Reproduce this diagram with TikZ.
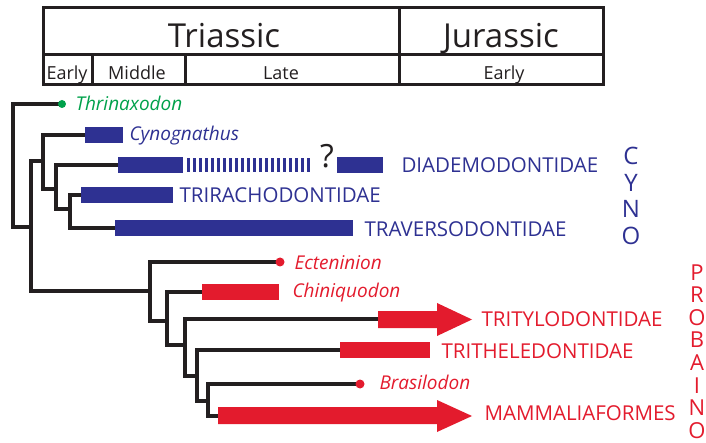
\documentclass[tikz,border=0pt]{standalone}
\usepackage{fontspec}
\setmainfont{Open Sans}
\definecolor{cynoblue}{HTML}{2E3192}
\definecolor{probred}{HTML}{E31B2D}
\definecolor{thrgreen}{HTML}{00A14B}
\definecolor{linegray}{HTML}{231F20}

\begin{document}
\begin{tikzpicture}[x=1pt,y=-1pt,
  branch/.style={line width=3.2pt,linegray},
  frame/.style={line width=3pt,linegray},
  period/.style={anchor=base,font=\fontsize{33}{33}\selectfont,linegray},
  stage/.style={anchor=base,font=\fontsize{18}{18}\selectfont,linegray},
  taxon/.style={anchor=base west,font=\fontsize{19}{19}\selectfont\itshape},
  clade/.style={anchor=base west,font=\fontsize{20.5}{20.5}\selectfont},
  sideletter/.style={anchor=base,font=\fontsize{22}{22}\selectfont}]
\useasboundingbox (0,0) rectangle (706,443);

% time scale
\draw[frame] (43,8) rectangle (603,85);
\draw[frame] (43,55) -- (603,55);
\draw[frame] (399,8) -- (399,85);
\draw[frame] (92,55) -- (92,85);
\draw[frame] (185,55) -- (185,85);
\node[period] (tri) at (224,48) {Triassic};
\node[period] (jur) at (501,48) {Jurassic};
\node[stage] (tearly) at (67,80) {Early};
\node[stage] (tmid) at (137,80) {Middle};
\node[stage] (tlate) at (281,80) {Late};
\node[stage] (jearly) at (504,80) {Early};

% tree
\draw[branch] (60,104) -- (13,104) -- (13,227) -- (31,227);
\draw[branch] (43,161) -- (31,161) -- (31,291) -- (150,291);
\draw[branch] (85,135) -- (43,135) -- (43,189) -- (56,189);
\draw[branch] (118,165) -- (56,165) -- (56,209) -- (70,209);
\draw[branch] (81,195) -- (70,195) -- (70,228) -- (115,228);
\draw[branch] (278,262) -- (150,262) -- (150,321) -- (167,321);
\draw[branch] (202,292) -- (167,292) -- (167,345) -- (185,345);
\draw[branch] (380,319) -- (185,319) -- (185,376) -- (197,376);
\draw[branch] (340,350) -- (197,350) -- (197,401) -- (208,401);
\draw[branch] (358,384) -- (208,384) -- (208,416) -- (220,416);

% ranges
\fill[thrgreen] (62,104) circle (4);
\fill[cynoblue] (85,127) rectangle (123,143);
\fill[cynoblue] (118,157) rectangle (183,173);
\foreach \x in {187,193,...,312}
  \fill[cynoblue] (\x,158) rectangle (\x+2.6,172);
\fill[cynoblue] (337,157) rectangle (383,173);
\fill[cynoblue] (81,187) rectangle (173,203);
\fill[cynoblue] (115,220) rectangle (353,236);
\fill[probred] (280,262) circle (4.5);
\fill[probred] (202,284) rectangle (279,300);
\fill[probred] (378,311) -- (437,311) -- (437,303) -- (472,319.5)
  -- (437,336) -- (437,328) -- (378,328) -- cycle;
\fill[probred] (340,342) rectangle (430,358);
\fill[probred] (360,384) circle (4.5);
\fill[probred] (218,407) -- (437,407) -- (437,400) -- (472,416)
  -- (437,432) -- (437,424) -- (218,424) -- cycle;

\node[anchor=base,font=\fontsize{32}{32}\selectfont,linegray] (qmark) at (327,168) {?};

% labels
\node[taxon,thrgreen] (thrin) at (72,111) {Thrinaxodon};
\node[taxon,cynoblue] (cynog) at (126,141) {Cynognathus};
\node[clade,cynoblue] (diadem) at (398,173) {DIADEMODONTIDAE};
\node[clade,cynoblue] (trirach) at (176,203) {TRIRACHODONTIDAE};
\node[clade,cynoblue] (travers) at (361,237) {TRAVERSODONTIDAE};
\node[taxon,probred] (ecten) at (291,270) {Ecteninion};
\node[taxon,probred] (chiniq) at (289,298) {Chiniquodon};
\node[clade,probred] (trityl) at (478,326) {TRITYLODONTIDAE};
\node[clade,probred] (tritheled) at (438,358) {TRITHELEDONTIDAE};
\node[taxon,probred] (brasil) at (376,389) {Brasilodon};
\node[clade,probred] (mammal) at (481,420) {MAMMALIAFORMES};

% side labels
\foreach \ch [count=\i from 0] in {C,Y,N,O}
  \node[sideletter,cynoblue,font=\fontsize{24}{24}\selectfont] (cyno\i) at (631,165+26.5*\i) {\ch};
\foreach \ch [count=\i from 0] in {P,R,O,B,A,I,N,O}
  \node[sideletter,probred] (prob\i) at (697,280+22.6*\i) {\ch};
\end{tikzpicture}
\end{document}
